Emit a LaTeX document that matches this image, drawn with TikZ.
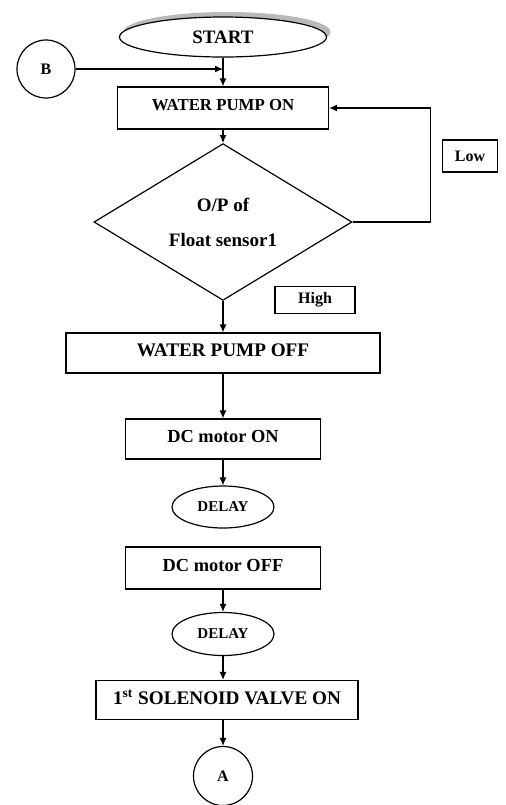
\documentclass[tikz,border=0pt]{standalone}
\usepackage{fontspec}
\setmainfont{Liberation Serif}
\usetikzlibrary{shapes.geometric,arrows.meta}

\tikzset{
  flow/.style={draw, line width=0.6pt, inner sep=0pt, font=\bfseries},
  procbox/.style={flow, rectangle, text depth=3pt},
  termnode/.style={flow, ellipse},
  decnode/.style={flow, diamond, align=center},
  connnode/.style={flow, circle},
  tagbox/.style={flow, rectangle, minimum height=15pt, font=\bfseries\fontsize{8}{9}\selectfont},
  arr/.style={-{Latex[length=4pt,width=3.5pt]}, line width=0.6pt},
}

\begin{document}
\begin{tikzpicture}[x=0.5pt, y=-0.5pt]
                        \useasboundingbox (0,0) rectangle (505,805);
                        % Start and entry point B
                        \fill[gray!55] (227,32) ellipse (103.5 and 20);
                        \node[termnode, fill=white, minimum width=103.5pt, minimum height=20pt,
                              font=\bfseries\fontsize{9.5}{11}\selectfont] (start) at (223,37) {START};
                        \node[connnode, minimum size=29pt, font=\bfseries\fontsize{8}{9}\selectfont] (b) at (46,69) {B};
                        \coordinate (join) at (223,69);
                        % Pump on and float sensor check
                        \node[procbox, minimum width=105.5pt, minimum height=21pt,
                              font=\bfseries\fontsize{8.4}{10}\selectfont] (pumpon) at (223,108) {WATER PUMP ON};
                        \node[decnode, minimum width=129pt, minimum height=69.5pt,
                              font=\bfseries\fontsize{9.5}{11}\selectfont] (sensor) at (223,222) {O/P of\\[6.5pt]Float sensor1};
                        \node[tagbox, minimum width=27.5pt, minimum height=16pt] (low) at (470,156) {Low};
                        \node[tagbox, minimum width=40pt, minimum height=13.5pt] (high) at (315,300) {High};
                        % Pump off, motor and delays
                        \node[procbox, minimum width=157pt, minimum height=20pt,
                              font=\bfseries\fontsize{9.6}{11}\selectfont] (pumpoff) at (223,353) {WATER PUMP OFF};
                        \node[procbox, minimum width=97.5pt, minimum height=20pt,
                              font=\bfseries\fontsize{9.2}{11}\selectfont] (dcon) at (223,439) {DC motor ON};
                        \node[termnode, minimum width=51pt, minimum height=21pt,
                              font=\bfseries\fontsize{7.5}{9}\selectfont] (delayone) at (223,507) {DELAY};
                        \node[procbox, minimum width=97.5pt, minimum height=21pt,
                              font=\bfseries\fontsize{9.2}{11}\selectfont] (dcoff) at (223,568) {DC motor OFF};
                        \node[termnode, minimum width=51pt, minimum height=21.5pt,
                              font=\bfseries\fontsize{7.5}{9}\selectfont] (delaytwo) at (223,634) {DELAY};
                        % Solenoid valve and exit point A
                        \node[procbox, minimum width=131pt, minimum height=19.5pt,
                              font=\bfseries\fontsize{9.6}{11}\selectfont] (valve) at (227,700) {1\textsuperscript{st} SOLENOID VALVE ON};
                        \node[connnode, minimum size=29.5pt, font=\bfseries\fontsize{8}{9}\selectfont] (a) at (223,776) {A};
                        % Connectors
                        \draw[arr] (b) -- (join);
                        \draw[arr] (start) -- (start |- pumpon.north);
                        \draw[arr] (start |- pumpon.south) -- (sensor);
                        \draw[arr] (sensor.east) -- ++(78,0) |- (pumpon.east);
                        \draw[arr] (sensor) -- (pumpoff);
                        \draw[arr] (pumpoff) -- (dcon);
                        \draw[arr] (dcon) -- (delayone);
                        \draw[arr] (dcoff) -- (delaytwo);
                        \draw[arr] (delaytwo) -- (delaytwo |- valve.north);
                        \draw[arr] (delaytwo |- valve.south) -- (a);
        \end{tikzpicture}
\end{document}
